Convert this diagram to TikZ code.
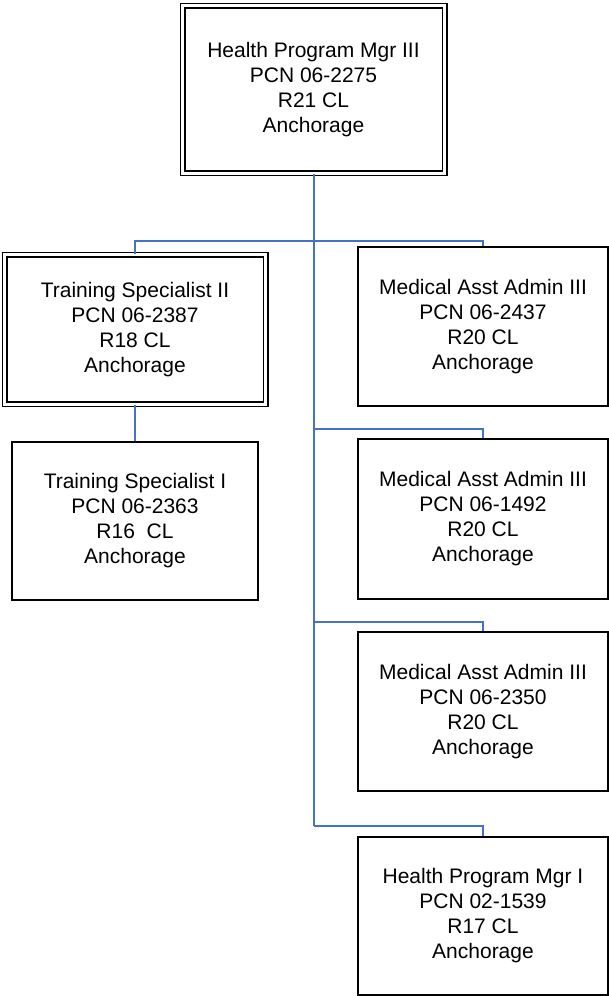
\documentclass[tikz,border=0pt]{standalone}
\usepackage{fontspec}
\setmainfont{Liberation Sans}
\begin{document}
\begin{tikzpicture}[x=1pt,y=1pt,
  box/.style={draw=black, line width=1.8pt, fill=white, inner sep=0pt, align=center,
    font=\fontsize{21}{25}\selectfont},
  dbox/.style={box, line width=1.5pt, double=white, double distance=3pt},
  conn/.style={draw={rgb,255:red,70;green,114;blue,196}, line width=1.5pt}]
\useasboundingbox (0,0) rectangle (609,-996);
\fill[white] (0,0) rectangle (609,-996);
% junction points
\coordinate (jA) at (314,-241);
\coordinate (jB) at (314,-429);
\coordinate (jC) at (314,-622);
\coordinate (jD) at (314,-826);
% nodes
\node[dbox, minimum width=262pt, minimum height=167.5pt] (top) at (313.5,-89.25)
  {Health Program Mgr III\\PCN 06-2275\\R21 CL\\Anchorage};
\node[dbox, minimum width=261pt, minimum height=149.5pt] (ts2) at (135,-329.25)
  {Training Specialist II\\PCN 06-2387\\R18 CL\\Anchorage};
\node[box, minimum width=246pt, minimum height=158pt] (ts1) at (135,-521)
  {Training Specialist I\\PCN 06-2363\\R16~~CL\\Anchorage};
\node[box, minimum width=250pt, minimum height=159pt] (med1) at (483,-326.5)
  {Medical Asst Admin III\\PCN 06-2437\\R20 CL\\Anchorage};
\node[box, minimum width=250pt, minimum height=160pt] (med2) at (483,-519)
  {Medical Asst Admin III\\PCN 06-1492\\R20 CL\\Anchorage};
\node[box, minimum width=250pt, minimum height=159pt] (med3) at (483,-711.5)
  {Medical Asst Admin III\\PCN 06-2350\\R20 CL\\Anchorage};
\node[box, minimum width=250pt, minimum height=158pt] (hpm1) at (483,-916)
  {Health Program Mgr I\\PCN 02-1539\\R17 CL\\Anchorage};
% connectors
\draw[conn] (top.south -| jA) -- (jD);
\draw[conn] (ts2.north) -- (ts2.north |- jA) -- (med1.north |- jA) -- (med1.north);
\draw[conn] (ts2.south) -- (ts1.north);
\draw[conn] (jB) -| (med2.north);
\draw[conn] (jC) -| (med3.north);
\draw[conn] (jD) -| (hpm1.north);
\end{tikzpicture}
\end{document}
